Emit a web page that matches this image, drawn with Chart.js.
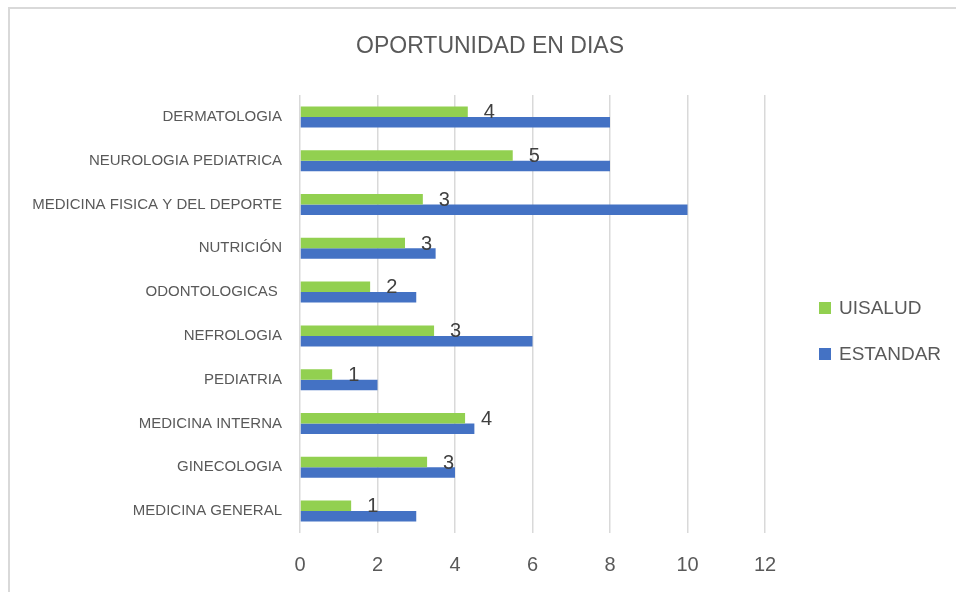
<!DOCTYPE html>
<html>
<head>
<meta charset="utf-8">
<title>Oportunidad en dias</title>
<script src="https://cdn.jsdelivr.net/npm/chart.js@4/dist/chart.umd.min.js"></script>
<style>
    html, body { margin: 0; padding: 0; background: #fff; overflow: hidden; }
    #wrap { position: relative; width: 956px; height: 592px; }
    #marco {
        position: absolute; left: 8px; top: 7px; width: 960px; height: 600px;
        border-top: 2px solid #d9d9d9; border-left: 2px solid #d9d9d9;
    }
    #mychart { position: absolute; left: 0; top: 0; }
</style>
</head>
<body>
<div id="wrap">
    <div id="marco"></div>
    <canvas id="mychart" width="956" height="592"></canvas>
</div>
<script>
// datos
var especialidades = ['DERMATOLOGIA', 'NEUROLOGIA PEDIATRICA', 'MEDICINA FISICA Y DEL DEPORTE',
    'NUTRICIÓN', 'ODONTOLOGICAS ', 'NEFROLOGIA', 'PEDIATRIA', 'MEDICINA INTERNA',
    'GINECOLOGIA', 'MEDICINA GENERAL'];
var uisalud = [4.33, 5.49, 3.17, 2.71, 1.81, 3.46, 0.83, 4.26, 3.28, 1.32];
var estandar = [8, 8, 10, 3.5, 3, 6, 2, 4.5, 4, 3];
var ticksX = [0, 2, 4, 6, 8, 10, 12];
var titulo = 'OPORTUNIDAD EN DIAS';

var gris = '#595959';
var fuente = "'Liberation Sans', Arial, sans-serif";

// titulo centrado sobre todo el grafico (no solo el area de barras)
var tituloPlugin = {
    id: 'tituloPlugin',
    afterDraw: function (chart) {
        var ctx = chart.ctx;
        ctx.save();
        ctx.font = '23px ' + fuente;
        ctx.fillStyle = gris;
        ctx.textAlign = 'center';
        ctx.textBaseline = 'middle';
        ctx.fillText(titulo, chart.width / 2 + 12, 47);
        ctx.restore();
    }
};

// etiquetas de valor (redondeadas, como en Excel)
var etiquetas = {
    id: 'etiquetas',
    afterDatasetsDraw: function (chart) {
        var ctx = chart.ctx;
        var meta = chart.getDatasetMeta(0);
        ctx.save();
        ctx.font = '20px ' + fuente;
        ctx.fillStyle = '#404040';
        ctx.textAlign = 'left';
        ctx.textBaseline = 'middle';
        meta.data.forEach(function (bar, i) {
            ctx.fillText(String(Math.round(uisalud[i])), bar.x + 16, bar.y + 1);
        });
        ctx.restore();
    }
};

// leyenda a la derecha
var leyenda = {
    id: 'leyenda',
    afterDraw: function (chart) {
        var ctx = chart.ctx;
        var area = chart.chartArea;
        var cx = area.right + 54;
        var cy = (area.top + area.bottom) / 2;
        ctx.save();
        ctx.font = '19px ' + fuente;
        ctx.textBaseline = 'middle';
        ctx.textAlign = 'left';
        chart.data.datasets.forEach(function (ds, i) {
            var y = cy - 6 + i * 46;
            ctx.fillStyle = ds.backgroundColor;
            ctx.fillRect(cx, y - 6, 12, 12);
            ctx.fillStyle = gris;
            ctx.fillText(ds.label, cx + 20, y + 1);
        });
        ctx.restore();
    }
};

var ctx = document.getElementById('mychart').getContext('2d');
var mychart = new Chart(ctx, {
    type: 'bar',
    data: {
        labels: especialidades,
        datasets: [{
            label: 'UISALUD',
            data: uisalud,
            backgroundColor: '#92d050',
            categoryPercentage: 0.48,
            barPercentage: 1
        }, {
            label: 'ESTANDAR',
            data: estandar,
            backgroundColor: '#4472c4',
            categoryPercentage: 0.48,
            barPercentage: 1
        }]
    },
    options: {
        indexAxis: 'y',
        responsive: false,
        animation: false,
        devicePixelRatio: 1,
        layout: { padding: { left: 0, right: 191, top: 95, bottom: 0 } },
        plugins: {
            legend: { display: false },
            tooltip: { enabled: false },
            title: { display: false }
        },
        scales: {
            x: {
                min: ticksX[0],
                max: ticksX[ticksX.length - 1],
                afterFit: function (scale) { scale.height = 59; },
                ticks: {
                    stepSize: ticksX[1] - ticksX[0],
                    color: gris,
                    padding: 20,
                    maxRotation: 0,
                    font: { family: fuente, size: 20 }
                },
                grid: { color: '#d9d9d9', lineWidth: 1.5, drawTicks: false },
                border: { display: false }
            },
            y: {
                afterFit: function (scale) { scale.width = 300; },
                ticks: {
                    color: gris,
                    padding: 18,
                    autoSkip: false,
                    font: { family: fuente, size: 15 }
                },
                grid: { display: false, drawTicks: false },
                border: { display: false }
            }
        }
    },
    plugins: [tituloPlugin, etiquetas, leyenda]
});
</script>
</body>
</html>
